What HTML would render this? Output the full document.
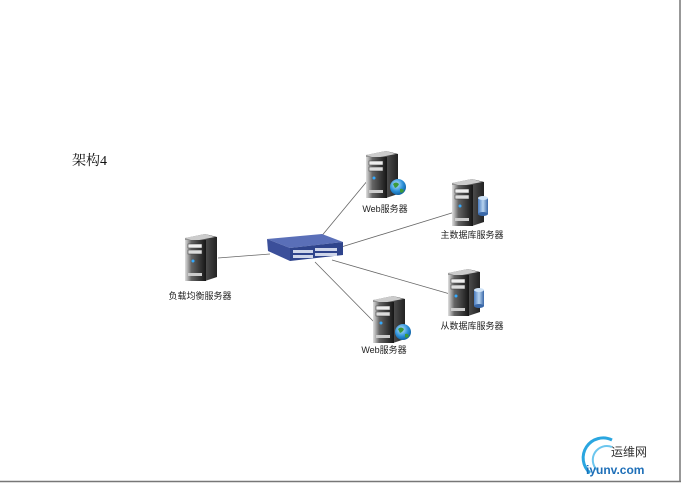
<!DOCTYPE html>
<html><head><meta charset="utf-8"><style>
html,body{margin:0;padding:0;background:#fff;}
svg{display:block;}
text{font-family:"Liberation Sans","Noto Sans CJK SC",sans-serif;font-size:9px;fill:#222;}
</style></head><body>
<svg width="683" height="485" viewBox="0 0 683 485">
<defs>
<linearGradient id="sv" x1="0" x2="1" y1="0" y2="0">
<stop offset="0" stop-color="#e0e0e0"/><stop offset="0.3" stop-color="#666"/><stop offset="1" stop-color="#151515"/>
</linearGradient>
<linearGradient id="sd" x1="0" x2="1"><stop offset="0" stop-color="#999"/><stop offset="1" stop-color="#222"/></linearGradient>
<linearGradient id="cy" x1="0" x2="1"><stop offset="0" stop-color="#4a7cc0"/><stop offset="0.5" stop-color="#b8d4f0"/><stop offset="1" stop-color="#3a68a8"/></linearGradient>
<radialGradient id="gl" cx="0.4" cy="0.35" r="0.7"><stop offset="0" stop-color="#bfe7ff"/><stop offset="0.6" stop-color="#2a8fd8"/><stop offset="1" stop-color="#0d5a9a"/></radialGradient>
<g id="srv">
<polygon points="0,4 20,0 32,3 32,43 20,47 0,43" fill="url(#sd)"/>
<polygon points="0,4 20,0 30,3 9,7" fill="#ccc"/>
<rect x="0" y="6" width="21" height="41" fill="url(#sv)"/>
<rect x="3" y="10" width="14" height="4" fill="#eee" stroke="#333" stroke-width="0.5"/>
<rect x="3" y="16" width="14" height="4" fill="#ddd" stroke="#333" stroke-width="0.5"/>
<circle cx="8" cy="27" r="1.5" fill="#3af"/>
<rect x="3" y="39" width="14" height="3" fill="#ccc"/>
</g>
<g id="glb"><circle r="8" fill="url(#gl)"/><path d="M-5,-3 q3,-3 6,0 q-1,3 -4,4 z M2,2 q3,-1 4,2 q-2,3 -4,1z" fill="#3c9a3a"/></g>
<g id="db"><rect x="-5" y="-8" width="10" height="16" fill="url(#cy)"/><ellipse cx="0" cy="-8" rx="5" ry="2" fill="#cfe3f7"/><ellipse cx="0" cy="8" rx="5" ry="2" fill="#3a68a8"/></g>
</defs>
<g stroke="#666" stroke-width="0.8">
<line x1="218" y1="258" x2="270" y2="254"/>
<line x1="315" y1="244" x2="368" y2="180"/>
<line x1="338" y1="248" x2="455" y2="212"/>
<line x1="332" y1="260" x2="450" y2="294"/>
<line x1="315" y1="262" x2="376" y2="324"/>
</g>
<!-- switch -->
<polygon points="267,239 322,234 343,242 290,248" fill="#5a6fb8"/>
<polygon points="267,239 290,248 290,261 268,251" fill="#3b4f9a"/>
<polygon points="290,248 343,242 343,255 290,261" fill="#2f448c"/>
<g fill="#cfd6ea"><rect x="293" y="250" width="20" height="3"/><rect x="315" y="248" width="22" height="3"/><rect x="293" y="255" width="20" height="3"/><rect x="315" y="253" width="22" height="3"/></g>
<use href="#srv" x="185" y="234"/>
<use href="#srv" x="366" y="151"/>
<use href="#glb" x="398" y="187"/>
<use href="#srv" x="452" y="179"/>
<use href="#db" x="483" y="206"/>
<use href="#srv" x="448" y="269"/>
<use href="#db" x="479" y="298"/>
<use href="#srv" x="373" y="296"/>
<use href="#glb" x="403" y="332"/>
<text x="72" y="165" style="font-size:14px;font-family:'Liberation Serif','Noto Serif CJK SC',serif;fill:#111">架构4</text>
<text x="200" y="299" text-anchor="middle">负载均衡服务器</text>
<text x="385" y="212" text-anchor="middle">Web服务器</text>
<text x="472" y="238" text-anchor="middle">主数据库服务器</text>
<text x="472" y="329" text-anchor="middle">从数据库服务器</text>
<text x="384" y="353" text-anchor="middle">Web服务器</text>
<line x1="680" y1="0" x2="680" y2="482" stroke="#777" stroke-width="1.5"/>
<line x1="0" y1="481.5" x2="681" y2="481.5" stroke="#777" stroke-width="1.5"/>
<path d="M590,473 A20,20 0 0 1 612,440" fill="none" stroke="#2aa6e0" stroke-width="3"/>
<path d="M597,470 A14,14 0 0 1 612,447" fill="none" stroke="#6cc6ee" stroke-width="2"/>
<text x="611" y="456" style="font-size:12px;fill:#333">运维网</text>
<text x="586" y="474" style="font-size:12px;font-weight:bold;fill:#1e6fb8">iyunv.com</text>
</svg>
</body></html>
